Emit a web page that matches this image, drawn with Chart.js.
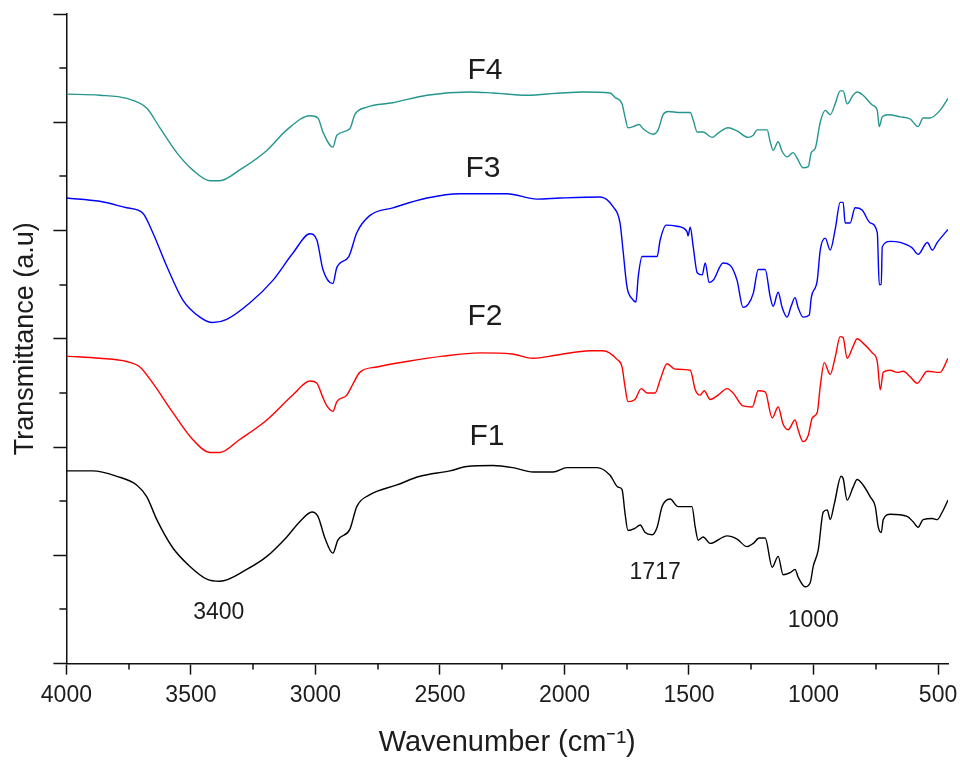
<!DOCTYPE html>
<html>
<head>
<meta charset="utf-8">
<title>FTIR F1-F4</title>
<script src="https://cdn.jsdelivr.net/npm/chart.js@4"></script>
<style>
  html, body { margin: 0; padding: 0; background: #fff; }
  #wrap { width: 960px; height: 763px; position: relative; }
</style>
</head>
<body>
<div id="wrap"><canvas id="chartFtir"></canvas></div>
<script>
// Espectros FTIR: [numero de onda (cm-1), transmitancia (u.a., con desplazamiento)]
const F1 = [[4000,17.8],[3894,17.8],[3798,17.3],[3718,16.5],[3677,15.4],[3637,13.3],[3573,10.7],[3505,9.0],[3436,7.8],[3384,7.6],[3276,8.7],[3195,9.9],[3115,11.7],[3063,13.1],[3014,14.0],[2990,13.6],[2962,11.6],[2930,10.2],[2910,11.4],[2862,12.4],[2834,14.5],[2781,15.6],[2673,16.5],[2580,17.3],[2460,17.8],[2392,18.2],[2287,18.3],[2207,18.1],[2126,17.7],[2046,17.7],[1990,18.1],[1869,18.1],[1817,17.4],[1785,16.3],[1769,16.1],[1757,13.9],[1745,12.3],[1717,12.5],[1696,12.8],[1676,12.1],[1648,11.9],[1628,12.6],[1608,14.5],[1576,15.2],[1544,14.5],[1488,14.5],[1475,12.6],[1463,11.4],[1443,11.7],[1415,11.1],[1347,11.8],[1307,11.5],[1267,10.8],[1242,11.1],[1218,11.6],[1194,11.6],[1166,8.9],[1142,9.9],[1122,8.2],[1094,8.4],[1074,8.7],[1062,8.0],[1034,7.1],[1013,7.5],[1001,9.0],[981,10.5],[961,14.0],[945,14.2],[933,13.3],[917,14.7],[889,17.3],[881,17.1],[865,15.1],[841,16.3],[825,17.0],[801,16.5],[772,15.4],[752,14.5],[740,12.6],[728,12.1],[720,13.3],[692,13.8],[624,13.6],[600,13.1],[580,12.6],[560,13.3],[523,13.4],[503,13.3],[483,14.0],[460,15.1]];

const F2 = [[4000,28.4],[3866,28.2],[3758,27.9],[3705,27.4],[3653,25.9],[3573,23.2],[3493,20.7],[3424,19.5],[3384,19.5],[3304,20.7],[3195,22.5],[3091,24.8],[3022,26.1],[2994,25.9],[2974,24.8],[2954,23.8],[2930,23.3],[2914,24.2],[2874,24.8],[2850,25.8],[2822,26.9],[2753,27.4],[2633,27.9],[2488,28.4],[2339,28.7],[2211,28.6],[2126,28.2],[2030,28.5],[1897,28.9],[1845,28.9],[1789,28.1],[1769,27.4],[1757,25.6],[1745,24.2],[1717,24.4],[1692,25.4],[1668,25.0],[1636,25.0],[1616,26.2],[1588,27.7],[1556,27.2],[1495,27.1],[1475,25.3],[1455,24.8],[1439,25.2],[1415,24.4],[1383,24.8],[1347,25.4],[1323,25.0],[1283,23.8],[1246,23.7],[1222,25.2],[1194,25.1],[1166,22.7],[1142,23.7],[1122,22.1],[1102,21.6],[1074,22.5],[1062,21.6],[1042,20.5],[1021,21.1],[1005,22.7],[985,23.2],[973,25.6],[957,27.8],[933,26.7],[913,28.3],[893,30.2],[881,30.1],[865,28.2],[841,29.3],[825,30.0],[801,29.6],[764,28.7],[744,27.9],[732,25.3],[720,26.9],[692,27.1],[664,26.9],[640,27.0],[612,26.5],[584,25.9],[543,27.0],[492,26.9],[460,28.2]];

const F3 = [[4000,43.0],[3866,42.7],[3758,42.1],[3693,41.6],[3653,39.8],[3597,36.7],[3533,33.6],[3464,32.0],[3412,31.5],[3356,31.8],[3264,33.3],[3171,35.4],[3091,37.9],[3022,39.7],[2994,39.1],[2970,36.4],[2930,35.1],[2914,36.6],[2866,37.6],[2834,39.8],[2781,41.4],[2689,42.1],[2552,43.0],[2420,43.4],[2231,43.4],[2110,42.9],[2018,43.0],[1857,43.1],[1805,42.2],[1777,40.7],[1765,38.2],[1749,34.8],[1729,33.7],[1713,33.4],[1704,35.7],[1688,37.6],[1628,37.6],[1616,39.1],[1592,40.5],[1548,40.4],[1508,39.9],[1504,39.5],[1495,40.3],[1483,38.5],[1467,36.1],[1447,35.9],[1435,37.0],[1419,35.2],[1403,35.4],[1363,37.0],[1335,36.8],[1307,35.4],[1283,32.9],[1262,33.2],[1242,34.2],[1222,36.4],[1194,36.4],[1174,33.9],[1162,33.0],[1142,34.3],[1126,32.9],[1106,32.0],[1090,33.0],[1074,33.8],[1062,32.9],[1042,32.0],[1017,32.2],[1009,33.8],[985,35.4],[973,38.2],[953,39.3],[933,38.2],[913,40.1],[893,42.6],[881,42.6],[873,40.7],[853,40.7],[833,42.1],[805,41.9],[772,40.7],[744,39.8],[736,35.0],[728,35.0],[724,38.5],[692,39.0],[652,38.9],[604,38.4],[580,37.8],[543,38.9],[523,38.2],[503,38.9],[460,40.1]];

const F4 = [[4000,52.6],[3866,52.5],[3758,52.2],[3677,51.3],[3625,49.5],[3557,47.2],[3493,45.6],[3424,44.6],[3384,44.6],[3304,45.6],[3195,47.4],[3115,49.3],[3022,50.6],[2990,50.4],[2970,49.1],[2930,47.7],[2914,48.8],[2862,49.4],[2842,50.7],[2793,51.4],[2689,51.8],[2552,52.5],[2380,52.8],[2287,52.7],[2150,52.5],[2018,52.7],[1925,52.8],[1817,52.7],[1797,52.3],[1769,51.7],[1757,50.5],[1745,49.5],[1724,49.6],[1700,49.8],[1684,49.4],[1644,48.9],[1624,49.3],[1604,50.7],[1584,51.0],[1536,50.9],[1495,50.9],[1483,50.2],[1467,49.1],[1443,49.1],[1407,48.6],[1383,49.0],[1343,49.5],[1307,49.2],[1262,48.6],[1242,48.8],[1226,49.3],[1186,49.3],[1174,48.2],[1162,47.4],[1142,48.2],[1126,47.3],[1106,46.8],[1082,47.2],[1066,46.7],[1042,45.8],[1021,45.9],[1009,47.2],[993,47.6],[973,50.0],[953,51.1],[933,50.7],[913,51.7],[893,52.9],[881,52.9],[865,51.7],[841,52.5],[825,52.8],[801,52.5],[764,51.6],[744,51.1],[736,49.6],[724,50.5],[700,50.7],[652,50.5],[612,50.3],[580,49.6],[560,50.4],[532,50.4],[492,51.1],[460,52.2]];

const SERIES_NAMES = ['F1', 'F2', 'F3', 'F4'];
const SERIES_COLORS = ['#000000', '#ff0000', '#0000ff', '#25968e'];

// Marcas de los ejes
const X_TICKS = [4000, 3500, 3000, 2500, 2000, 1500, 1000, 500];
const X_MINOR = [3750, 3250, 2750, 2250, 1750, 1250, 750];
const Y_TICKS = [0, 10, 20, 30, 40, 50, 60];
const Y_MINOR = [5, 15, 25, 35, 45, 55];

// Etiquetas de texto dentro del grafico: [texto, numero de onda, transmitancia]
const CURVE_LABELS = [['F4', 2319, 54.8], ['F3', 2327, 45.7], ['F2', 2319, 32.0], ['F1', 2311, 21.0]];
const PEAK_LABELS = [['3400', 3388, 4.7], ['1717', 1636, 8.4], ['1000', 1001, 4.0]];

const FUENTE = "'Liberation Sans', Arial, sans-serif";
const TEXTO = '#1c1c1c';

// Plugin: marcas menores y etiquetas de texto
const extrasPlugin = {
    id: 'extras',
    afterDraw(chart) {
        const ctx = chart.ctx;
        const xs = chart.scales.x;
        const ys = chart.scales.y;
        const area = chart.chartArea;
        ctx.save();
        ctx.strokeStyle = '#111';
        ctx.lineWidth = 1.5;
        ctx.beginPath();
        X_MINOR.forEach(v => {
            const px = Math.round(xs.getPixelForValue(v));
            ctx.moveTo(px, area.bottom);
            ctx.lineTo(px, area.bottom + 6);
        });
        Y_MINOR.forEach(v => {
            const py = Math.round(ys.getPixelForValue(v));
            ctx.moveTo(area.left, py);
            ctx.lineTo(area.left - 7, py);
        });
        ctx.stroke();

        ctx.fillStyle = TEXTO;
        ctx.textAlign = 'center';
        ctx.textBaseline = 'middle';
        ctx.font = '30px ' + FUENTE;
        CURVE_LABELS.forEach(([t, w, v]) => {
            ctx.fillText(t, xs.getPixelForValue(w), ys.getPixelForValue(v));
        });
        ctx.font = '23px ' + FUENTE;
        PEAK_LABELS.forEach(([t, w, v]) => {
            ctx.fillText(t, xs.getPixelForValue(w), ys.getPixelForValue(v));
        });
        ctx.restore();
    }
};

const seriesData = [F1, F2, F3, F4];

new Chart(document.getElementById('chartFtir'), {
    type: 'scatter',
    data: {
        datasets: seriesData.map((pts, i) => ({
            label: SERIES_NAMES[i],
            data: pts.map(p => ({ x: p[0], y: p[1] })),
            showLine: true,
            borderColor: SERIES_COLORS[i],
            backgroundColor: SERIES_COLORS[i],
            borderWidth: 1.4,
            pointRadius: 0,
            cubicInterpolationMode: 'monotone'
        }))
    },
    options: {
        responsive: true,
        maintainAspectRatio: false,
        animation: false,
        layout: { padding: { left: 5, top: 14, right: 12, bottom: 3 } },
        plugins: {
            legend: { display: false },
            tooltip: { enabled: false }
        },
        scales: {
            x: {
                type: 'linear',
                reverse: true,
                min: 460,
                max: 4000,
                afterBuildTicks: s => { s.ticks = X_TICKS.map(v => ({ value: v })); },
                // la etiqueta "500" puede salirse un poco del area, como en el original
                afterFit: s => { s.paddingRight = 0; },
                ticks: {
                    autoSkip: false,
                    maxRotation: 0,
                    padding: 7,
                    color: TEXTO,
                    font: { family: FUENTE, size: 23 },
                    callback: v => String(v)
                },
                grid: { drawOnChartArea: false, tickLength: 11, tickWidth: 1.5, tickColor: '#111' },
                border: { color: '#111', width: 1.5 },
                title: {
                    display: true,
                    text: 'Wavenumber (cm\u207B\u00B9)',
                    color: TEXTO,
                    font: { family: FUENTE, size: 29 },
                    padding: { top: 9, bottom: 0 }
                }
            },
            y: {
                type: 'linear',
                min: 0,
                max: 60,
                afterBuildTicks: s => { s.ticks = Y_TICKS.map(v => ({ value: v })); },
                ticks: { display: false },
                grid: { drawOnChartArea: false, tickLength: 13, tickWidth: 1.5, tickColor: '#111' },
                border: { color: '#111', width: 1.5 },
                title: {
                    display: true,
                    text: 'Transmittance (a.u)',
                    color: TEXTO,
                    font: { family: FUENTE, size: 27 },
                    padding: { top: 4, bottom: 12 }
                }
            }
        }
    },
    plugins: [extrasPlugin]
});
</script>
</body>
</html>
